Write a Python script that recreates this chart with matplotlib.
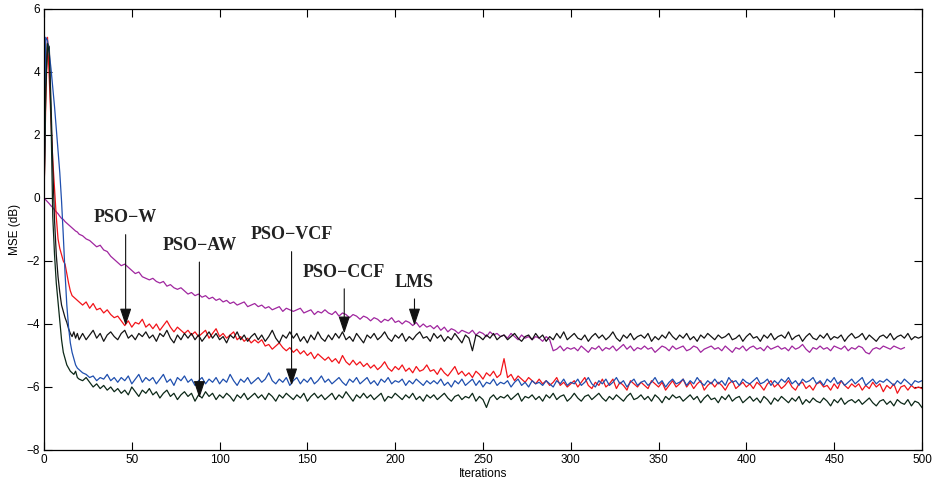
import numpy as np
import matplotlib
matplotlib.use('Agg')
import matplotlib.pyplot as plt


# iteration grid: every step for the initial transient, then every 2nd iteration
iters = list(range(0, 21)) + list(range(22, 501, 2))

mse_lms = [
    0.0, -0.06, -0.12, -0.18, -0.25, -0.3, -0.38, -0.44, -0.5, -0.58, -0.65,
    -0.68, -0.75, -0.8, -0.85, -0.9, -0.95, -1.0, -1.05, -1.08, -1.15,
    -1.2, -1.3, -1.35, -1.45, -1.55, -1.5, -1.65, -1.7, -1.85, -1.95,
    -2.05, -2.15, -2.1, -2.2, -2.3, -2.4, -2.35, -2.5, -2.55, -2.6,
    -2.55, -2.65, -2.7, -2.65, -2.8, -2.75, -2.85, -2.9, -2.85, -2.95,
    -3.05, -3.0, -3.1, -3.05, -3.15, -3.1, -3.2, -3.15, -3.25, -3.2,
    -3.3, -3.25, -3.35, -3.3, -3.4, -3.35, -3.3, -3.45, -3.4, -3.35,
    -3.45, -3.4, -3.5, -3.45, -3.55, -3.5, -3.45, -3.6, -3.5, -3.55,
    -3.6, -3.55, -3.5, -3.65, -3.6, -3.55, -3.7, -3.6, -3.65, -3.55,
    -3.65, -3.7, -3.6, -3.75, -3.65, -3.7, -3.8, -3.7, -3.75, -3.85,
    -3.75, -3.8, -3.9, -3.8, -3.85, -3.95, -3.85, -3.9, -3.8, -3.95,
    -3.9, -4.0, -3.9, -3.95, -4.05, -3.95, -4.1, -4.0, -4.1, -4.05,
    -4.15, -4.05, -4.2, -4.1, -4.25, -4.15, -4.2, -4.3, -4.2, -4.25,
    -4.3, -4.2, -4.35, -4.25, -4.3, -4.4, -4.25, -4.35, -4.3, -4.4,
    -4.35, -4.45, -4.3, -4.4, -4.5, -4.35, -4.45, -4.4, -4.5, -4.4,
    -4.45, -4.55, -4.4, -4.5, -4.85, -4.8, -4.7, -4.85, -4.75, -4.8,
    -4.75, -4.85, -4.7, -4.8, -4.9, -4.75, -4.8, -4.7, -4.85, -4.75,
    -4.8, -4.7, -4.85, -4.75, -4.65, -4.8, -4.7, -4.85, -4.75, -4.8,
    -4.7, -4.8, -4.75, -4.9, -4.8, -4.7, -4.75, -4.85, -4.7, -4.8,
    -4.75, -4.7, -4.85, -4.8, -4.7, -4.75, -4.9, -4.8, -4.75, -4.7,
    -4.8, -4.75, -4.85, -4.7, -4.8, -4.9, -4.75, -4.8, -4.7, -4.85,
    -4.75, -4.7, -4.8, -4.75, -4.85, -4.7, -4.8, -4.75, -4.7, -4.8,
    -4.75, -4.85, -4.7, -4.8, -4.75, -4.65, -4.8, -4.9, -4.75, -4.8,
    -4.7, -4.8, -4.75, -4.85, -4.7, -4.75, -4.8, -4.7, -4.85, -4.75,
    -4.8, -4.7, -4.75, -4.9, -4.95, -4.8, -4.75, -4.8, -4.7, -4.75,
    -4.8, -4.7, -4.75, -4.8, -4.75,
]

mse_pso_w = [
    -0.1, 3.0, 5.1, 3.8, 2.4, 1.2, 0.3, -0.6, -1.3, -1.6, -1.8,
    -2.0, -2.1, -2.4, -2.7, -2.95, -3.1, -3.15, -3.2, -3.25, -3.3,
    -3.4, -3.3, -3.5, -3.35, -3.55, -3.5, -3.65, -3.55, -3.7, -3.8,
    -3.75, -3.9, -4.05, -3.9, -4.1, -3.95, -4.0, -3.85, -4.1, -4.0,
    -4.15, -4.0, -4.2, -4.05, -3.9, -4.1, -4.25, -4.1, -4.2, -4.3,
    -4.2, -4.35, -4.25, -4.4, -4.3, -4.2, -4.45, -4.3, -4.15, -4.4,
    -4.3, -4.45, -4.35, -4.25, -4.5, -4.4, -4.55, -4.45, -4.6, -4.5,
    -4.6, -4.5, -4.7, -4.65, -4.8, -4.7, -4.6, -4.75, -4.85, -4.75,
    -4.9, -4.8, -4.95, -4.85, -5.0, -4.9, -5.1, -4.95, -5.05, -5.15,
    -5.05, -5.2, -5.1, -5.25, -5.0, -5.2, -5.3, -5.15, -5.3, -5.2,
    -5.35, -5.25, -5.4, -5.3, -5.45, -5.35, -5.2, -5.4, -5.5, -5.35,
    -5.45, -5.3, -5.5, -5.4, -5.55, -5.35, -5.5, -5.45, -5.3, -5.5,
    -5.45, -5.6, -5.4, -5.55, -5.65, -5.5, -5.35, -5.6, -5.5, -5.65,
    -5.55, -5.7, -5.5, -5.6, -5.75, -5.55, -5.65, -5.5, -5.7, -5.6,
    -5.1, -5.7, -5.6, -5.8, -5.65, -5.75, -5.85, -5.7, -5.8, -5.9,
    -5.75, -5.9, -5.8, -5.95, -5.85, -5.7, -5.95, -5.85, -6.0, -5.9,
    -5.8, -6.0, -5.85, -5.7, -5.95, -6.05, -5.85, -5.95, -5.75, -6.0,
    -5.9, -5.75, -6.05, -5.85, -5.95, -6.1, -5.8, -5.9, -6.0, -5.85,
    -5.95, -6.05, -5.8, -5.9, -6.0, -5.85, -6.1, -5.95, -5.8, -6.0,
    -5.9, -5.75, -6.0, -5.85, -6.05, -5.9, -5.8, -6.1, -5.95, -5.85,
    -6.0, -5.85, -5.95, -6.1, -5.9, -5.8, -6.05, -5.95, -5.85, -6.0,
    -5.9, -6.05, -5.85, -5.95, -6.1, -5.9, -5.8, -6.0, -5.9, -6.05,
    -5.95, -5.8, -6.0, -6.1, -5.9, -5.85, -6.05, -5.95, -6.1, -5.9,
    -5.85, -6.0, -5.95, -6.1, -5.9, -6.05, -5.8, -5.95, -6.05, -5.9,
    -6.0, -5.9, -6.1, -5.95, -6.05, -5.85, -6.0, -5.9, -6.15, -5.95,
    -6.05, -5.9, -6.2, -6.0, -5.95, -6.1, -5.95, -6.05, -6.0, -6.05,
]

mse_pso_ccf = [
    -0.1, 3.5, 4.9, 4.8, 3.0, 1.0, -0.7, -1.8, -2.5, -3.0, -3.4,
    -3.6, -3.8, -3.95, -4.15, -4.3, -4.4, -4.25, -4.45, -4.3, -4.5,
    -4.3, -4.5, -4.35, -4.2, -4.45, -4.3, -4.55, -4.35, -4.25, -4.4,
    -4.5, -4.3, -4.2, -4.45, -4.35, -4.5, -4.3, -4.4, -4.25, -4.45,
    -4.35, -4.55, -4.3, -4.4, -4.2, -4.45, -4.6, -4.35, -4.5, -4.3,
    -4.45, -4.3, -4.5, -4.35, -4.55, -4.4, -4.25, -4.45, -4.3, -4.5,
    -4.4, -4.6, -4.35, -4.45, -4.25, -4.5, -4.35, -4.55, -4.4, -4.3,
    -4.5, -4.35, -4.55, -4.4, -4.2, -4.45, -4.6, -4.35, -4.45, -4.25,
    -4.45, -4.3, -4.55, -4.4, -4.6, -4.35, -4.5, -4.25, -4.45, -4.55,
    -4.35, -4.5, -4.3, -4.45, -4.25, -4.5, -4.4, -4.55, -4.3, -4.45,
    -4.6, -4.35, -4.45, -4.3, -4.5, -4.4, -4.25, -4.45, -4.55, -4.35,
    -4.45, -4.3, -4.55, -4.4, -4.5, -4.35, -4.25, -4.45, -4.4, -4.55,
    -4.3, -4.45, -4.35, -4.55, -4.4, -4.5, -4.3, -4.45, -4.6, -4.35,
    -4.45, -4.85, -4.35, -4.4, -4.5, -4.35, -4.45, -4.3, -4.5, -4.4,
    -4.35, -4.5, -4.4, -4.3, -4.45, -4.55, -4.4, -4.35, -4.5, -4.3,
    -4.45, -4.35, -4.55, -4.4, -4.5, -4.3, -4.45, -4.25, -4.5, -4.4,
    -4.3, -4.45, -4.5, -4.35, -4.55, -4.4, -4.3, -4.45, -4.35, -4.5,
    -4.4, -4.25, -4.45, -4.55, -4.35, -4.45, -4.3, -4.5, -4.4, -4.35,
    -4.45, -4.3, -4.55, -4.4, -4.5, -4.35, -4.45, -4.25, -4.4, -4.5,
    -4.35, -4.45, -4.3, -4.5, -4.4, -4.55, -4.35, -4.45, -4.3, -4.4,
    -4.5, -4.35, -4.45, -4.4, -4.3, -4.5, -4.45, -4.35, -4.55, -4.4,
    -4.3, -4.45, -4.4, -4.55, -4.35, -4.45, -4.3, -4.5, -4.4, -4.35,
    -4.45, -4.25, -4.5, -4.4, -4.35, -4.55, -4.4, -4.3, -4.45, -4.5,
    -4.35, -4.45, -4.3, -4.5, -4.4, -4.45, -4.35, -4.55, -4.4, -4.3,
    -4.45, -4.4, -4.3, -4.5, -4.35, -4.45, -4.55, -4.4, -4.35, -4.45,
    -4.3, -4.5, -4.4, -4.35, -4.45, -4.3, -4.5, -4.4, -4.45, -4.4,
]

mse_pso_vcf = [
    -0.1, 5.1, 5.0, 4.6, 4.1, 3.5, 2.9, 2.2, 1.5, 0.8, -0.1,
    -1.2, -2.4, -3.4, -4.1, -4.6, -4.9, -5.1, -5.3, -5.4, -5.45,
    -5.55, -5.6, -5.7, -5.65, -5.8, -5.7, -5.75, -5.6, -5.8, -5.7,
    -5.85, -5.7, -5.8, -5.65, -5.9, -5.75, -5.6, -5.85, -5.7, -5.8,
    -5.7, -5.9, -5.75, -5.6, -5.85, -5.75, -5.95, -5.7, -5.8, -5.65,
    -5.85, -5.75, -5.95, -5.8, -5.7, -5.9, -5.75, -5.85, -5.7, -5.9,
    -5.75, -5.85, -5.6, -5.8, -5.95, -5.75, -5.85, -5.7, -5.9, -5.8,
    -5.7, -5.85, -5.75, -5.55, -5.8, -5.9, -5.75, -5.85, -5.7, -5.95,
    -5.8, -5.7, -5.9, -5.75, -5.85, -5.7, -5.9, -5.8, -5.65, -5.85,
    -5.75, -5.9, -5.8, -5.7, -5.85, -5.95, -5.75, -5.85, -5.7, -5.9,
    -5.8, -5.7, -5.9, -5.8, -5.95, -5.75, -5.85, -5.7, -5.9, -5.8,
    -5.85, -5.75, -5.95, -5.8, -5.9, -5.75, -5.85, -5.95, -5.8, -5.9,
    -5.8, -5.9, -5.75, -5.95, -5.85, -6.0, -5.8, -5.9, -5.75, -5.95,
    -5.85, -5.75, -5.95, -5.8, -6.0, -5.85, -5.9, -5.75, -5.95, -5.85,
    -5.9, -5.8, -6.0, -5.85, -5.75, -5.95, -5.85, -6.0, -5.8, -5.9,
    -5.85, -5.95, -5.8, -5.9, -6.0, -5.8, -5.9, -5.75, -5.95, -5.85,
    -5.9, -5.75, -5.95, -5.85, -5.7, -5.9, -6.0, -5.8, -5.9, -5.75,
    -5.95, -5.85, -5.7, -5.9, -5.8, -6.0, -5.85, -5.75, -5.95, -5.85,
    -5.8, -5.95, -5.85, -5.7, -5.9, -5.8, -6.0, -5.85, -5.75, -5.9,
    -5.85, -5.75, -5.95, -5.8, -5.9, -5.7, -5.85, -5.95, -5.8, -5.9,
    -5.75, -5.9, -5.8, -5.95, -5.7, -5.85, -5.8, -5.95, -5.75, -5.85,
    -5.9, -5.8, -5.7, -5.9, -5.85, -5.75, -5.95, -5.8, -5.9, -5.75,
    -5.85, -5.7, -5.9, -5.8, -5.95, -5.75, -5.85, -5.8, -5.7, -5.9,
    -5.8, -5.95, -5.75, -5.85, -5.7, -5.9, -5.8, -5.95, -5.85, -5.75,
    -5.9, -5.8, -5.7, -5.95, -5.85, -5.75, -5.9, -5.8, -5.85, -5.75,
    -5.85, -5.95, -5.8, -5.9, -5.75, -5.85, -5.95, -5.8, -5.85, -5.8,
]

mse_pso_aw = [
    -0.1, 3.5, 4.9, 4.6, 2.5, -0.6, -1.8, -2.7, -3.3, -3.9, -4.5,
    -4.9, -5.1, -5.3, -5.4, -5.5, -5.55, -5.6, -5.5, -5.7, -5.75,
    -5.8, -5.7, -5.85, -6.0, -5.9, -6.05, -5.95, -6.1, -6.0, -6.15,
    -6.05, -6.2, -6.1, -6.25, -6.0, -6.15, -6.3, -6.1, -6.2, -6.05,
    -6.25, -6.15, -6.35, -6.2, -6.1, -6.3, -6.2, -6.4, -6.25, -6.15,
    -6.3, -6.2, -6.45, -6.25, -6.35, -6.15, -6.3, -6.2, -6.4, -6.25,
    -6.35, -6.2, -6.3, -6.45, -6.25, -6.35, -6.2, -6.4, -6.3, -6.2,
    -6.35, -6.25, -6.4, -6.2, -6.3, -6.45, -6.25, -6.35, -6.2, -6.3,
    -6.4, -6.25, -6.35, -6.2, -6.45, -6.3, -6.2, -6.35, -6.25, -6.4,
    -6.3, -6.2, -6.4, -6.25, -6.35, -6.15, -6.3, -6.45, -6.25, -6.35,
    -6.2, -6.35, -6.25, -6.4, -6.3, -6.2, -6.45, -6.3, -6.35, -6.2,
    -6.3, -6.4, -6.25, -6.35, -6.2, -6.4, -6.3, -6.45, -6.25, -6.35,
    -6.25, -6.4, -6.3, -6.2, -6.35, -6.45, -6.3, -6.25, -6.4, -6.3,
    -6.35, -6.2, -6.45, -6.3, -6.4, -6.65, -6.35, -6.25, -6.4, -6.3,
    -6.35, -6.25, -6.4, -6.3, -6.2, -6.45, -6.3, -6.35, -6.25, -6.4,
    -6.3, -6.45, -6.25, -6.35, -6.2, -6.4, -6.3, -6.25, -6.45, -6.35,
    -6.2, -6.35, -6.45, -6.3, -6.25, -6.4, -6.3, -6.2, -6.35, -6.45,
    -6.3, -6.4, -6.25, -6.35, -6.45, -6.3, -6.2, -6.4, -6.35, -6.25,
    -6.4, -6.3, -6.45, -6.25, -6.35, -6.5, -6.3, -6.4, -6.25, -6.35,
    -6.3, -6.45, -6.35, -6.25, -6.4, -6.3, -6.5, -6.35, -6.25, -6.4,
    -6.35, -6.5, -6.3, -6.4, -6.25, -6.45, -6.35, -6.3, -6.5, -6.4,
    -6.3, -6.45, -6.35, -6.5, -6.3, -6.4, -6.55, -6.35, -6.45, -6.3,
    -6.4, -6.5, -6.35, -6.45, -6.3, -6.55, -6.4, -6.5, -6.35, -6.45,
    -6.5, -6.35, -6.45, -6.6, -6.4, -6.5, -6.35, -6.55, -6.45, -6.4,
    -6.5, -6.4, -6.55, -6.45, -6.35, -6.5, -6.6, -6.45, -6.4, -6.55,
    -6.45, -6.6, -6.4, -6.5, -6.55, -6.4, -6.6, -6.45, -6.5, -6.65,
]

# label, iteration the arrow points at, label height, arrow start, arrow tip (dB)
labels = ['PSO\u2212W', 'PSO\u2212AW', 'PSO\u2212VCF', 'PSO\u2212CCF', 'LMS']
label_iter = [46.5, 88.5, 141, 171, 211]
label_y = [-0.63, -1.5, -1.17, -2.35, -2.67]
arrow_tip = [-4.05, -6.35, -5.95, -4.3, -4.05]


plt.rcParams['font.family'] = ['Liberation Sans', 'DejaVu Sans']
fig = plt.figure(figsize=(9.32, 4.82), dpi=100)
ax = fig.add_axes([0.0472, 0.0664, 0.942, 0.915])

ax.plot(iters[:len(mse_lms)], mse_lms, color='#a0269f', lw=0.9)
ax.plot(iters, mse_pso_w, color='#f2141a', lw=0.9)
ax.plot(iters, mse_pso_ccf, color='#141414', lw=0.9)
ax.plot(iters, mse_pso_vcf, color='#1f4fae', lw=0.9)
ax.plot(iters, mse_pso_aw, color='#0c2818', lw=0.9)

for name, xi, yl, yt in zip(labels, label_iter, label_y, arrow_tip):
    ax.annotate(name, xy=(xi, yt), xytext=(xi, yl), ha='center', va='center',
                fontsize=13, fontweight='bold',
                family=['Liberation Serif', 'DejaVu Serif'], color='#222222',
                arrowprops=dict(arrowstyle='-|>,head_length=0.75,head_width=0.25',
                                mutation_scale=14, color='#111111', lw=0.8,
                                shrinkA=4, shrinkB=0))

ax.set_xlim(0, 500)
ax.set_ylim(-8, 6)
ax.set_xticks(np.arange(0, 501, 50))
ax.set_yticks(np.arange(-8, 7, 2))
ax.tick_params(direction='in', length=6, width=0.8, top=True, right=True,
               labelsize=8.5, pad=3)
for s in ax.spines.values():
    s.set_linewidth(0.9)

ax.set_xlabel('Iterations', fontsize=8.5, labelpad=1)
ax.set_ylabel('MSE (dB)', fontsize=8.5, labelpad=4)

fig.savefig('out.png', dpi=100)
